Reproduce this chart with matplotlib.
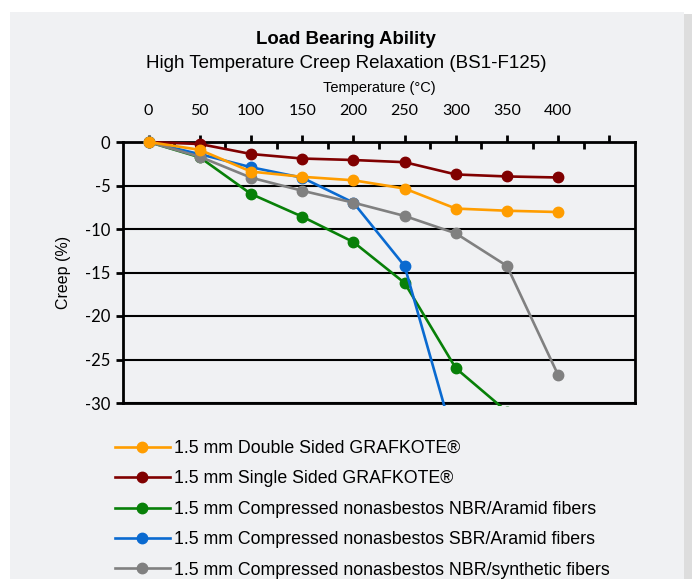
import numpy as np
import matplotlib
matplotlib.use('Agg')
import matplotlib.pyplot as plt
from matplotlib.patches import Rectangle

# Data
temps = [0, 50, 100, 150, 200, 250, 300, 350, 400]
double_sided = [0, -0.9, -3.4, -4.0, -4.4, -5.35, -7.65, -7.9, -8.05]
single_sided = [0, -0.23, -1.38, -1.9, -2.07, -2.32, -3.73, -3.96, -4.08]
nbr_aramid = [0, -1.76, -5.97, -8.58, -11.5, -16.2, -26.0, -31.0]
sbr_aramid = [0, -1.4, -2.9, -4.1, -6.97, -14.25, -35.0]
nbr_synth = [0, -1.69, -4.1, -5.6, -6.97, -8.5, -10.5, -14.25, -26.8]

labels = ['1.5 mm Double Sided GRAFKOTE®',
          '1.5 mm Single Sided GRAFKOTE®',
          '1.5 mm Compressed nonasbestos NBR/Aramid fibers',
          '1.5 mm Compressed nonasbestos SBR/Aramid fibers',
          '1.5 mm Compressed nonasbestos NBR/synthetic fibers']
colors = ['#ff9d00', '#800000', '#088008', '#0a6ad0', '#808080']

y_ticks = [0, -5, -10, -15, -20, -25, -30]
x_major = [0, 50, 100, 150, 200, 250, 300, 350, 400, 450]
x_labels = ['0', '50', '100', '150', '200', '250', '300', '350', '400', '']
x_minor = [25, 75, 125, 175, 225, 275, 325, 375, 425]

bg = '#f0f1f3'
W, H = 692, 579
fig = plt.figure(figsize=(W / 100, H / 100), dpi=100, facecolor='white')

# grey panel with a little shadow on the right
fig.patches.append(Rectangle((684 / W, 0), 8 / W, 1 - 14 / H, transform=fig.transFigure,
                             facecolor='#dddddd', edgecolor='none', zorder=-2))
fig.patches.append(Rectangle((10 / W, 0), 674 / W, 1 - 12 / H, transform=fig.transFigure,
                             facecolor=bg, edgecolor='none', zorder=-1))

ax = fig.add_axes([123 / W, 1 - 403 / H, (635 - 123) / W, (403 - 142) / H])
ax.set_facecolor(bg)

series = [double_sided, single_sided, nbr_aramid, sbr_aramid, nbr_synth]
clip = Rectangle((0, -0.012), 1, 1.2, transform=ax.transAxes)
handles = [None] * 5
# draw order so orange ends up on top
for i in [1, 2, 3, 4, 0]:
    vals = series[i]
    ln, = ax.plot(temps[:len(vals)], vals, color=colors[i], lw=1.9, marker='o',
                  markersize=7.5, label=labels[i], zorder=3 + i * 0.1 + (1 if i == 0 else 0))
    ln.set_clip_path(clip)
    handles[i] = ln

ax.set_xlim(-25, 475)
ax.set_ylim(-30, 0)

ax.xaxis.tick_top()
ax.set_xticks(x_major)
ax.set_xticklabels(x_labels, fontfamily='Lato', fontsize=11.5)
ax.set_xticks(x_minor, minor=True)
ax.tick_params(axis='x', which='major', direction='out', length=5, width=2, pad=12)
ax.tick_params(axis='x', which='minor', direction='in', length=5, width=2)
ax.xaxis.set_label_position('top')
ax.set_xlabel('Temperature (°C)', fontfamily='Liberation Sans', fontsize=10.5, labelpad=9)

ax.set_yticks(y_ticks)
ax.set_yticklabels([str(v) for v in y_ticks], fontfamily='Lato', fontsize=12)
ax.tick_params(axis='y', direction='out', length=5, width=2, pad=4)
ax.set_ylabel('Creep (%)', fontfamily='Liberation Sans', fontsize=11.5, labelpad=10)

ax.grid(axis='y', color='black', lw=1.5)
ax.set_axisbelow(True)
for s in ax.spines.values():
    s.set_linewidth(2)

fig.text(346 / W, 1 - 40 / H, 'Load Bearing Ability', ha='center', va='center',
         fontfamily='Liberation Sans', fontweight='bold', fontsize=13.4)
fig.text(346 / W, 1 - 64 / H, 'High Temperature Creep Relaxation (BS1-F125)', ha='center',
         va='center', fontfamily='Liberation Sans', fontsize=13.5)

fig.legend(handles=handles, loc='upper left', bbox_to_anchor=(106 / W, 1 - 431 / H),
           frameon=False, prop={'family': 'Liberation Sans', 'size': 12.75},
           handlelength=3.1, handletextpad=0.25, labelspacing=0.76, borderpad=0)

fig.savefig('out.png', dpi=100, facecolor='white')
